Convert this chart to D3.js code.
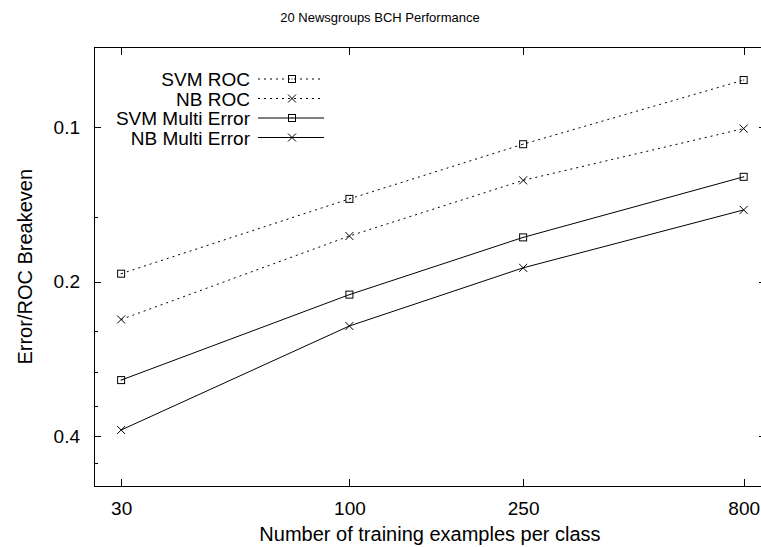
<!DOCTYPE html>
<html>
<head>
<meta charset="utf-8">
<script src="https://cdn.jsdelivr.net/npm/d3@7"></script>
<style>
  body { margin: 0; background: #fff; }
  text { font-family: "Liberation Sans", Arial, Helvetica, sans-serif; fill: #000; }
</style>
</head>
<body>
<div id="chart"></div>
<script>
// training set sizes (x) and the four curves (y)
const sizes = [30, 100, 250, 800];
const svmRoc = [0.193, 0.138, 0.108, 0.081];
const nbRoc = [0.237, 0.163, 0.127, 0.1007];
const svmMulti = [0.311, 0.212, 0.164, 0.125];
const nbMulti = [0.389, 0.244, 0.188, 0.145];

const seriesNames = ["SVM ROC", "NB ROC", "SVM Multi Error", "NB Multi Error"];
const xTicks = [30, 100, 250, 800];
const yMajorTicks = [0.1, 0.2, 0.4];
const yMinorTicks = [0.15, 0.25, 0.3, 0.35, 0.45];

(function(){
    // 1. canvas
    const width = 761;
    const height = 547;
    const plot = { left: 94, right: 766, top: 47.5, bottom: 486 };

    const svg = d3.select("#chart")
        .append("svg")
        .attr("width", width)
        .attr("height", height);

    // 2. log scales (y runs downward, smaller error at the top)
    const x = d3.scaleLog().domain([26, 900]).range([plot.left, plot.right]);
    const y = d3.scaleLog().base(2).domain([0.07, 0.5]).range([plot.top, plot.bottom]);

    // 3. ticks, pointing inward on all four sides
    const fmt = d => String(d);
    const g = svg.append("g").attr("shape-rendering", "crispEdges");

    g.append("g").attr("transform", `translate(0,${plot.bottom})`)
        .call(d3.axisBottom(x).tickValues(xTicks).tickFormat(fmt).tickSize(-7).tickPadding(16));
    g.append("g").attr("transform", `translate(0,${plot.top})`)
        .call(d3.axisTop(x).tickValues(xTicks).tickFormat("").tickSize(-7));
    g.append("g").attr("transform", `translate(${plot.left},0)`)
        .call(d3.axisLeft(y).tickValues(yMajorTicks).tickFormat(fmt).tickSize(-7).tickPadding(14));
    g.append("g").attr("transform", `translate(${plot.left},0)`)
        .call(d3.axisLeft(y).tickValues(yMinorTicks).tickFormat("").tickSize(-4));
    g.append("g").attr("transform", `translate(${plot.right},0)`)
        .call(d3.axisRight(y).tickValues(yMajorTicks).tickFormat("").tickSize(-7));
    g.append("g").attr("transform", `translate(${plot.right},0)`)
        .call(d3.axisRight(y).tickValues(yMinorTicks).tickFormat("").tickSize(-4));

    g.selectAll(".domain").remove();
    g.selectAll(".tick line").attr("stroke", "#000");
    g.selectAll(".tick text").attr("font-size", 19).attr("fill", "#000")
        .attr("font-family", "'Liberation Sans', Arial, Helvetica, sans-serif");

    // border
    g.append("rect")
        .attr("x", plot.left).attr("y", plot.top)
        .attr("width", plot.right - plot.left).attr("height", plot.bottom - plot.top)
        .attr("fill", "none").attr("stroke", "#000").attr("stroke-width", 1);

    // 4. series
    const series = [
        { name: seriesNames[0], values: svmRoc, dash: "2,4", marker: "box" },
        { name: seriesNames[1], values: nbRoc, dash: "2,4", marker: "cross" },
        { name: seriesNames[2], values: svmMulti, dash: null, marker: "box" },
        { name: seriesNames[3], values: nbMulti, dash: null, marker: "cross" }
    ];

    function drawMarker(sel, type, cx, cy) {
        if (type === "box") {
            sel.append("rect")
                .attr("x", cx - 3.5).attr("y", cy - 3.5).attr("width", 7).attr("height", 7)
                .attr("fill", "none").attr("stroke", "#000").attr("stroke-width", 1);
            sel.append("rect")
                .attr("x", cx - 0.5).attr("y", cy - 0.5).attr("width", 1).attr("height", 1)
                .attr("fill", "#000");
        } else {
            sel.append("path")
                .attr("d", `M${cx - 4},${cy - 4}L${cx + 4},${cy + 4}M${cx - 4},${cy + 4}L${cx + 4},${cy - 4}`)
                .attr("stroke", "#000").attr("stroke-width", 1).attr("fill", "none");
        }
    }

    const line = d3.line()
        .x((d, i) => x(sizes[i]))
        .y(d => y(d));

    const lines = svg.append("g");
    series.forEach(s => {
        lines.append("path")
            .attr("d", line(s.values))
            .attr("fill", "none")
            .attr("stroke", "#000")
            .attr("stroke-width", 1)
            .attr("stroke-dasharray", s.dash);
        s.values.forEach((v, i) => drawMarker(lines, s.marker, x(sizes[i]), y(v)));
    });

    // 5. legend
    const legend = svg.append("g");
    series.forEach((s, i) => {
        const ly = 79 + i * 19.5;
        legend.append("text")
            .attr("x", 250).attr("y", ly + 7)
            .attr("text-anchor", "end")
            .attr("font-size", 19)
            .text(s.name);
        legend.append("line")
            .attr("x1", 258).attr("x2", 324).attr("y1", ly).attr("y2", ly)
            .attr("stroke", "#000").attr("stroke-width", 1)
            .attr("stroke-dasharray", s.dash);
        drawMarker(legend, s.marker, 292, ly);
    });

    // 6. titles
    svg.append("text")
        .attr("x", 380).attr("y", 22)
        .attr("text-anchor", "middle")
        .attr("font-size", 13)
        .text("20 Newsgroups BCH Performance");

    svg.append("text")
        .attr("x", (plot.left + plot.right) / 2).attr("y", 541)
        .attr("text-anchor", "middle")
        .attr("font-size", 20)
        .text("Number of training examples per class");

    svg.append("text")
        .attr("transform", `translate(32,${(plot.top + plot.bottom) / 2}) rotate(-90)`)
        .attr("text-anchor", "middle")
        .attr("font-size", 20)
        .text("Error/ROC Breakeven");
})();
</script>
</body>
</html>
